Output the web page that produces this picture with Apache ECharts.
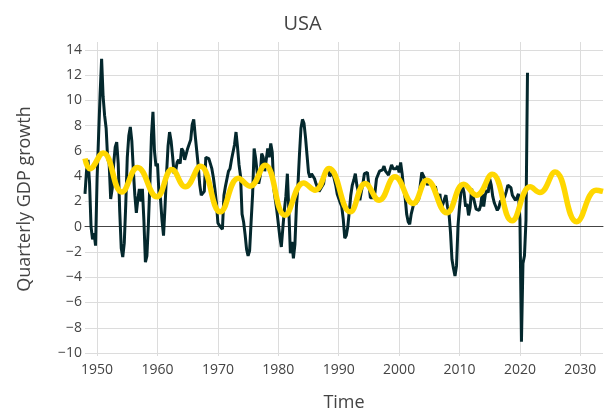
<!DOCTYPE html>
<html>
<head>
<meta charset="utf-8">
<script src="https://cdn.jsdelivr.net/npm/echarts@6/dist/echarts.min.js"></script>
<style>
html,body{margin:0;padding:0;background:#fff;}
#chart{width:605px;height:417px;}
</style>
</head>
<body>
<div id="chart"></div>
<script>
// Quarterly GDP growth (year-over-year, %), starting 1948 Q1, one value per quarter
var startYear = 1948;
var gdpGrowth = [
  2.6, 4.4, 5.3, 3.5,   0.0, -1.0, -0.5, -1.5,   3.8, 7.2, 10.5, 13.3,   10.3, 8.8, 7.8, 5.4,
  5.0, 2.2, 3.0, 5.0,   6.3, 6.7, 5.0, 1.2,   -1.7, -2.4, -1.3, 1.8,   5.5, 7.2, 7.9, 6.8,
  4.5, 2.5, 1.1, 2.2,   3.0, 2.0, 3.0, 0.5,   -2.8, -2.3, 0.3, 3.5,   7.2, 9.1, 6.0, 4.8,
  5.0, 2.6, 2.2, 0.5,   -0.7, 1.6, 4.2, 6.4,   7.5, 6.8, 5.6, 4.2,   4.4, 5.1, 5.3, 5.0,
  6.2, 6.0, 5.3, 5.3,   6.2, 6.1, 6.9, 8.1,   8.5, 7.2, 6.0, 4.8,   3.3, 2.5, 2.6, 2.8,
  5.5, 5.4, 5.4, 5.0,   4.6, 3.9, 3.0, 1.9,   0.3, 0.1, 0.1, -0.2,   2.5, 3.2, 3.1, 4.4,
  4.6, 5.3, 5.3, 6.5,   7.5, 6.3, 4.9, 4.0,   1.0, 0.4, -0.6, -1.8,   -2.3, -1.9, 0.4, 2.6,
  6.2, 5.4, 4.3, 3.4,   4.0, 5.8, 5.5, 4.4,   4.3, 6.2, 5.5, 6.6,   5.9, 3.0, 3.0, 1.3,
  1.4, -0.8, -1.6, -0.1,   1.3, 2.4, 4.2, 1.2,   -2.1, -1.2, -2.5, -1.4,   1.6, 3.3, 5.7, 7.8,
  8.5, 8.2, 7.1, 5.7,   4.3, 3.9, 4.2, 4.0,   3.8, 3.4, 3.1, 2.8,   2.9, 3.2, 3.4, 4.4,
  4.3, 4.5, 4.0, 3.9,   4.3, 3.8, 3.3, 2.6,   2.7, 1.9, 1.6, 0.6,   -0.9, -0.7, 0.0, 1.2,
  2.5, 3.3, 3.7, 4.2,   3.3, 2.8, 2.1, 2.8,   3.4, 4.2, 4.1, 4.3,   3.3, 2.3, 2.4, 2.3,
  2.7, 3.8, 3.7, 4.4,   4.3, 4.5, 4.8, 4.4,   4.5, 4.1, 4.5, 4.9,   4.6, 4.7, 4.6, 4.8,
  4.3, 5.1, 4.2, 3.0,   2.3, 1.0, 0.4, 0.2,   1.0, 1.5, 2.0, 1.8,   1.8, 2.2, 3.3, 4.3,
  4.3, 3.8, 3.7, 3.3,   3.7, 3.4, 3.3, 3.0,   3.2, 2.6, 2.2, 2.6,   1.5, 1.8, 2.2, 2.5,
  1.6, 1.1, -0.4, -2.6,   -3.3, -3.9, -3.1, 0.1,   1.6, 2.8, 3.2, 2.7,   1.6, 1.8, 0.9, 1.5,
  3.0, 2.4, 2.5, 1.4,   1.5, 1.3, 1.7, 2.6,   1.6, 2.5, 2.9, 2.7,   3.8, 3.3, 2.4, 1.9,
  1.6, 1.3, 1.5, 2.0,   2.0, 2.2, 2.4, 2.8,   3.3, 3.3, 3.1, 2.5,   2.3, 2.1, 2.3, 2.6,
  0.6, -9.1, -2.9, -2.3,   0.5, 12.2
];

// Smooth cyclical (fitted / projected) component: [year, value]
var cycleYears  = [1948.0, 1948.8, 1951.0, 1954.1, 1956.7, 1959.9, 1962.4, 1964.6, 1967.1, 1970.4,
                   1973.4, 1975.3, 1977.8, 1981.1, 1984.2, 1986.1, 1988.4, 1991.9, 1994.4, 1996.7,
                   1999.3, 2002.3, 2004.6, 2007.9, 2010.7, 2012.8, 2015.4, 2018.7, 2021.7, 2023.3,
                   2025.8, 2029.4, 2032.6, 2033.75];
var cycleValues = [5.4, 4.6, 5.85, 2.76, 4.69, 2.37, 4.53, 3.16, 4.79, 1.18,
                   3.85, 3.21, 4.87, 0.92, 3.47, 2.9, 4.61, 1.18, 3.42, 2.1,
                   3.95, 1.84, 3.69, 1.1, 3.37, 2.5, 4.16, 0.47, 3.16, 2.71,
                   4.34, 0.4, 2.9, 2.8];

var xTicks = [1950, 1960, 1970, 1980, 1990, 2000, 2010, 2020, 2030];
var yTicks = [-10, -8, -6, -4, -2, 0, 2, 4, 6, 8, 10, 12, 14];

var gdpData = gdpGrowth.map(function (v, i) { return [startYear + i * 0.25, v]; });
var cycleData = cycleYears.map(function (y, i) { return [y, cycleValues[i]]; });

var FONT = 'Open Sans';
var chart = echarts.init(document.getElementById('chart'), null, { renderer: 'canvas' });
chart.setOption({
  animation: false,
  backgroundColor: '#fff',
  textStyle: { fontFamily: FONT, color: '#444' },
  title: {
    text: 'USA', left: 'center', top: 9,
    textStyle: { fontFamily: FONT, fontSize: 20, fontWeight: 'normal', color: '#444' }
  },
  grid: { left: 85, right: 2, top: 42, bottom: 60, containLabel: false },
  xAxis: {
    type: 'value', min: 1948, max: 2033.75,
    name: 'Time', nameLocation: 'middle', nameGap: 38,
    nameTextStyle: { fontFamily: FONT, fontSize: 18, color: '#444' },
    axisLine: { show: true, onZero: true, lineStyle: { color: '#444', width: 1 } },
    axisTick: { show: false, customValues: xTicks },
    axisLabel: {
      customValues: xTicks, fontFamily: FONT, fontSize: 14, color: '#444', margin: 7,
      formatter: function (v) { return String(Math.round(v)); }
    },
    splitLine: { show: true, lineStyle: { color: '#dcdcdc', width: 1 } }
  },
  yAxis: {
    type: 'value', min: -10.2368, max: 14.6316,
    name: 'Quarterly GDP growth', nameLocation: 'middle', nameGap: 51, nameRotate: 90,
    nameTextStyle: { fontFamily: FONT, fontSize: 18, color: '#444' },
    axisLine: { show: false },
    axisTick: { show: false, customValues: yTicks },
    axisLabel: {
      customValues: yTicks, fontFamily: FONT, fontSize: 14, color: '#444', margin: 3,
      formatter: function (v) { var r = Math.round(v); return r < 0 ? '\u2212' + Math.abs(r) : String(r); }
    },
    splitLine: { show: true, lineStyle: { color: '#dcdcdc', width: 1 } }
  },
  series: [
    {
      name: 'GDP growth', type: 'line', data: gdpData, showSymbol: false,
      lineStyle: { color: '#04282d', width: 3 }, z: 2
    },
    {
      name: 'Cycle', type: 'line', data: cycleData, showSymbol: false, smooth: 0.45,
      lineStyle: { color: '#FFD700', width: 5.5 }, z: 3
    }
  ]
});
</script>
</body>
</html>
